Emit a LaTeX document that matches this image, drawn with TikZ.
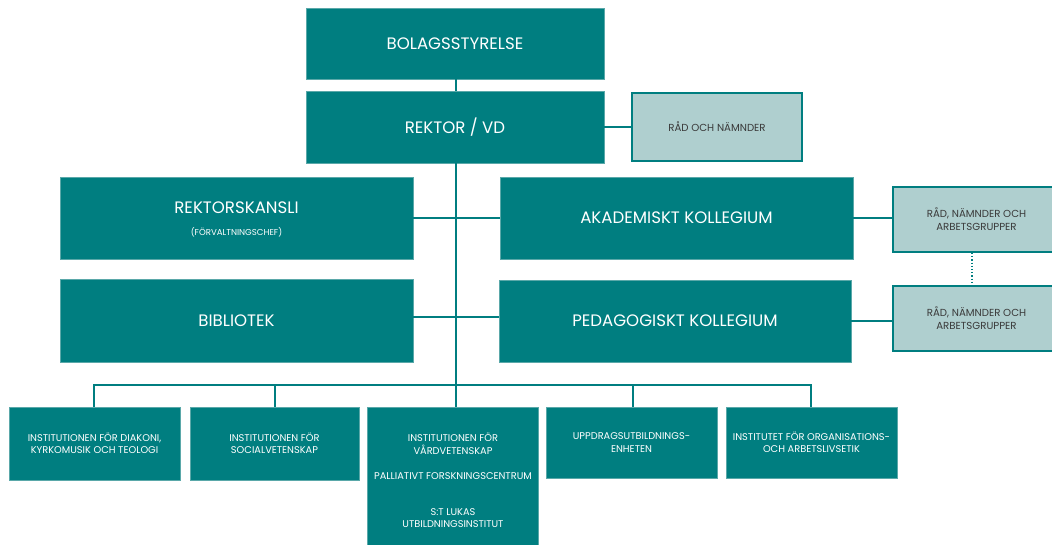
\documentclass[tikz,border=0pt]{standalone}
\usepackage{fontspec}
\setmainfont{Poppins}
\definecolor{teal1}{HTML}{007E80}
\definecolor{lightbox}{HTML}{AFCFCF}
\definecolor{edge}{HTML}{5AA8A9}
\definecolor{darktext}{HTML}{3A3A3A}
\tikzset{
  tbox/.style={rectangle, fill=teal1, draw=edge, line width=0.6pt, inner sep=0pt, text=white, align=center},
  lbox/.style={rectangle, fill=lightbox, draw=teal1, line width=2pt, inner sep=0pt, text=darktext, align=center},
  conn/.style={draw=teal1, line width=1.3pt},
  big/.style={font=\fontsize{16.6}{19}\selectfont},
  small/.style={font=\fontsize{9.8}{12.5}\selectfont},
  lsmall/.style={font=\fontsize{10.2}{13}\selectfont},
  tiny/.style={font=\fontsize{8.6}{10}\selectfont},
}
\begin{document}
\begin{tikzpicture}[x=1pt,y=-1pt]
\clip (0,0) rectangle (1052,544);
\fill[white] (0,0) rectangle (1052,544);
% top
\node[tbox, big, minimum width=298pt, minimum height=71pt] (bol) at (455,43.5) {BOLAGSSTYRELSE};
\node[tbox, big, minimum width=298pt, minimum height=72pt] (rek) at (455,127) {REKTOR / VD};
\node[lbox, lsmall, minimum width=170pt, minimum height=68pt] (rad) at (717,127) {RÅD OCH NÄMNDER};
% middle
\node[tbox, minimum width=353pt, minimum height=82pt] (kans) at (236.5,218) {};
\node[big, text=white] (kanst) at (236.5,208) {REKTORSKANSLI};
\node[tiny, text=white] (kanss) at (236.5,232) {(FÖRVALTNINGSCHEF)};
\node[tbox, big, minimum width=353pt, minimum height=83pt] (bib) at (236.5,320.5) {BIBLIOTEK};
\node[tbox, big, minimum width=353pt, minimum height=82pt] (aka) at (676.5,218) {AKADEMISKT KOLLEGIUM};
\node[tbox, big, minimum width=352pt, minimum height=82pt] (ped) at (675,321) {PEDAGOGISKT KOLLEGIUM};
\node[lbox, lsmall, minimum width=167pt, minimum height=65pt] (r1) at (976.5,219.5) {RÅD, NÄMNDER OCH\\ARBETSGRUPPER};
\node[lbox, lsmall, minimum width=167pt, minimum height=65pt] (r2) at (976.5,318.5) {RÅD, NÄMNDER OCH\\ARBETSGRUPPER};
% bottom
\node[tbox, small, minimum width=171pt, minimum height=73pt] (b1) at (94.5,443.5) {INSTITUTIONEN FÖR DIAKONI,\\KYRKOMUSIK OCH TEOLOGI};
\node[tbox, small, minimum width=169pt, minimum height=73pt] (b2) at (274.5,443.5) {INSTITUTIONEN FÖR\\SOCIALVETENSKAP};
\node[tbox, minimum width=171pt, minimum height=150pt] (b3) at (453,482) {};
\node[small, text=white, align=center] (b3a) at (453,444) {INSTITUTIONEN FÖR\\VÅRDVETENSKAP};
\node[small, text=white] (b3b) at (453,476) {PALLIATIVT FORSKNINGSCENTRUM};
\node[small, text=white, align=center] (b3c) at (453,518) {S:T LUKAS\\UTBILDNINGSINSTITUT};
\node[tbox, small, minimum width=171pt, minimum height=71pt] (b4) at (631.5,442.5) {UPPDRAGSUTBILDNINGS-\\ENHETEN};
\node[tbox, small, minimum width=171pt, minimum height=71pt] (b5) at (811.5,442.5) {INSTITUTET FÖR ORGANISATIONS-\\OCH ARBETSLIVSETIK};
% connectors
\coordinate (t1) at (456,218);
\coordinate (t2) at (456,317);
\coordinate (bus) at (456,385);
\coordinate (busL) at (94,385);
\coordinate (bus2) at (275,385);
\coordinate (bus4) at (633,385);
\coordinate (busR) at (811,385);
\draw[conn] (bol.south -| bus) -- (rek.north -| bus);
\draw[conn] (rek.south -| bus) -- (bus);
\draw[conn] (rek.east) -- (rad.west);
\draw[conn] (kans.east |- t1) -- (aka.west |- t1);
\draw[conn] (bib.east |- t2) -- (ped.west |- t2);
\draw[conn] (aka.east) -- (r1.west |- aka.east);
\draw[conn] (ped.east) -- (r2.west |- ped.east);
\draw[teal1, line width=1.2pt, dotted] (r1.south -| 972,0) -- (r2.north -| 972,0);
\draw[conn] (busL |- b1.north) -- (busL) -- (busR) -- (busR |- b5.north);
\draw[conn] (bus2) -- (bus2 |- b2.north);
\draw[conn] (bus) -- (bus |- b3.north);
\draw[conn] (bus4) -- (bus4 |- b4.north);
\end{tikzpicture}
\end{document}
